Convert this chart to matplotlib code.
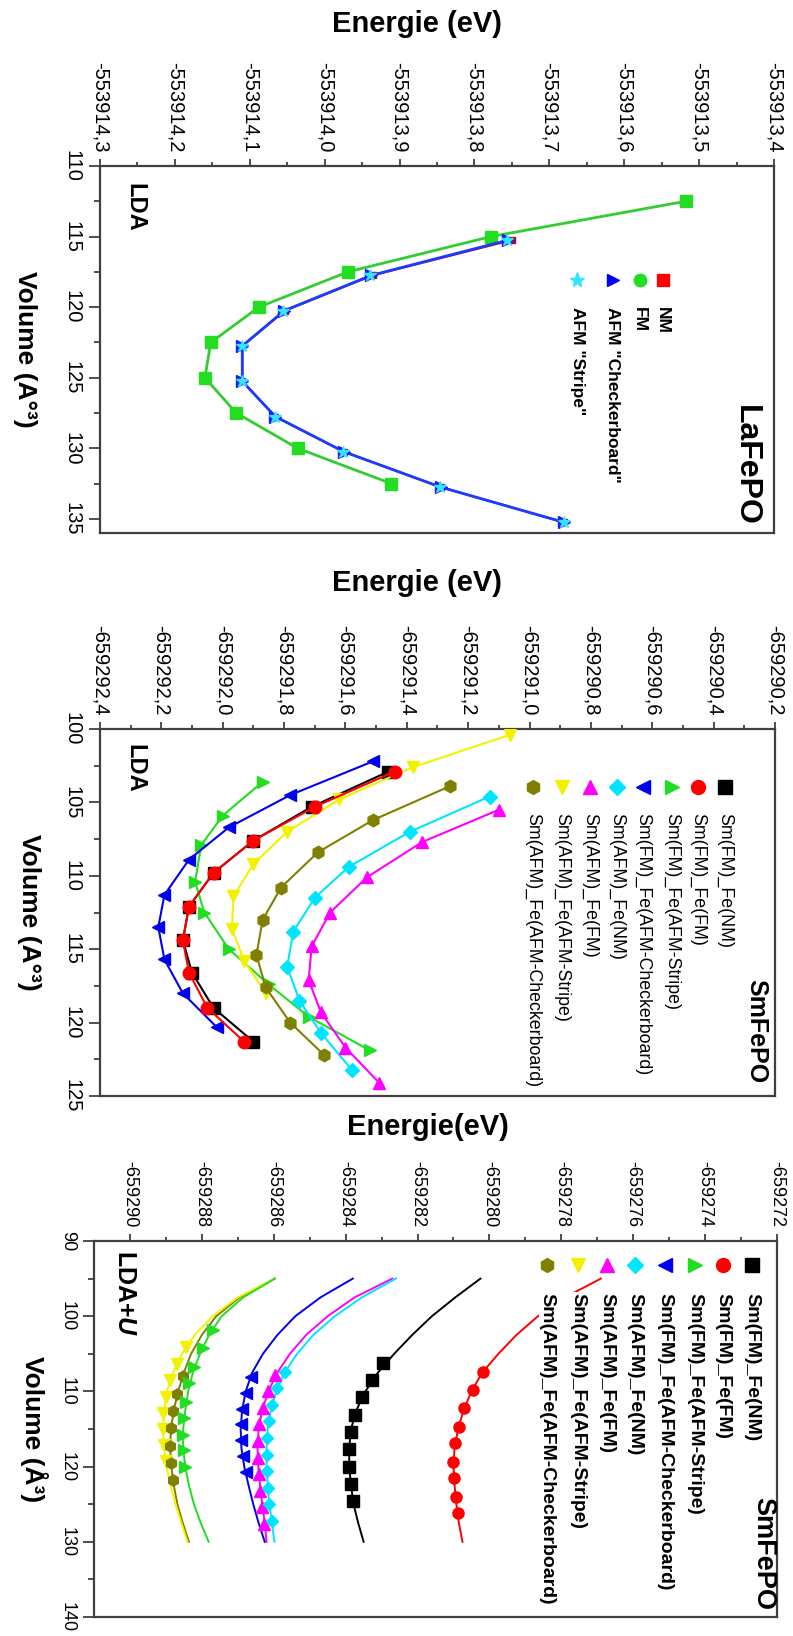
import matplotlib
matplotlib.use("Agg")
import matplotlib.pyplot as plt
from matplotlib.patches import Rectangle
import numpy as np

plt.rcParams['font.family'] = ['Liberation Sans', 'DejaVu Sans']
plt.rcParams['axes.unicode_minus'] = False
plt.rcParams['mathtext.fontset'] = 'custom'
plt.rcParams['mathtext.it'] = 'Liberation Sans:italic:bold'
plt.rcParams['mathtext.rm'] = 'Liberation Sans:bold'

# ---- LaFePO (LDA) ----
la_vol_fm = [112.5, 115.0, 117.5, 120.0, 122.5, 125.0, 127.5, 130.0, 132.5]
la_e_fm = [-553913.518, -553913.778, -553913.969, -553914.088, -553914.152,
           -553914.160, -553914.118, -553914.036, -553913.911]
la_vol_afm = [115.25, 117.75, 120.25, 122.75, 125.25, 127.75, 130.25, 132.75, 135.25]
la_e_nm = [-553913.750, -553913.936, -553914.053, -553914.110, -553914.110,
           -553914.066, -553913.974, -553913.845, -553913.680]
la_e_check = [-553913.755, -553913.938, -553914.054, -553914.110, -553914.110,
              -553914.066, -553913.974, -553913.845, -553913.680]
la_e_stripe = [-553913.757, -553913.940, -553914.055, -553914.111, -553914.111,
               -553914.066, -553913.975, -553913.846, -553913.680]
la_labels = ['NM', 'FM', 'AFM "Checkerboard"', 'AFM "Stripe"']

# ---- SmFePO (LDA) ----
sm_labels = ['Sm(FM)_Fe(NM)', 'Sm(FM)_Fe(FM)', 'Sm(FM)_Fe(AFM-Stripe)',
             'Sm(FM)_Fe(AFM-Checkerboard)', 'Sm(AFM)_Fe(NM)', 'Sm(AFM)_Fe(FM)',
             'Sm(AFM)_Fe(AFM-Stripe)', 'Sm(AFM)_Fe(AFM-Checkerboard)']
sm_vol = [
    [102.9, 105.3, 107.6, 109.8, 112.1, 114.4, 116.6, 119.0, 121.3],
    [102.9, 105.3, 107.6, 109.8, 112.1, 114.4, 116.6, 119.0, 121.3],
    [103.6, 105.9, 107.9, 110.4, 112.5, 115.0, 117.4, 119.6, 121.9],
    [102.2, 104.5, 106.7, 108.9, 111.3, 113.5, 115.7, 118.0, 120.3],
    [104.6, 107.0, 109.4, 111.5, 113.8, 116.2, 118.5, 120.7, 123.2],
    [105.5, 107.7, 110.1, 112.5, 114.8, 117.1, 119.3, 121.7, 124.1],
    [100.4, 102.6, 104.8, 107.0, 109.2, 111.4, 113.6, 115.8, 118.0],
    [103.9, 106.2, 108.4, 110.8, 113.0, 115.4, 117.6, 120.0, 122.2],
]
sm_e = [
    [-659291.46, -659291.71, -659291.90, -659292.03, -659292.11, -659292.13, -659292.10, -659292.03, -659291.90],
    [-659291.44, -659291.70, -659291.90, -659292.03, -659292.11, -659292.13, -659292.11, -659292.05, -659291.93],
    [-659291.87, -659292.00, -659292.07, -659292.09, -659292.06, -659291.98, -659291.85, -659291.72, -659291.52],
    [-659291.51, -659291.78, -659291.98, -659292.11, -659292.19, -659292.21, -659292.19, -659292.13, -659292.02],
    [-659291.13, -659291.39, -659291.59, -659291.70, -659291.77, -659291.79, -659291.75, -659291.68, -659291.58],
    [-659291.10, -659291.35, -659291.53, -659291.65, -659291.71, -659291.72, -659291.68, -659291.60, -659291.49],
    [-659291.065, -659291.38, -659291.62, -659291.79, -659291.90, -659291.965, -659291.97, -659291.93, -659291.86],
    [-659291.26, -659291.51, -659291.69, -659291.81, -659291.87, -659291.89, -659291.86, -659291.78, -659291.67],
]

# ---- SmFePO (LDA+U) : fitted curves and computed points ----
u_fit_vol = [95, 97.5, 100, 102.5, 105, 107.5, 110, 112.5, 115, 117.5, 120, 122.5, 125, 127.5, 130]
u_fit_e = [
    [-659280.25, -659280.95, -659281.6, -659282.15, -659282.65, -659283.1, -659283.45, -659283.7, -659283.85, -659283.9, -659283.9, -659283.85, -659283.78, -659283.65, -659283.5],
    [-659276.9, -659277.9, -659278.65, -659279.25, -659279.75, -659280.2, -659280.5, -659280.72, -659280.87, -659280.97, -659281.0, -659280.97, -659280.92, -659280.85, -659280.75],
    [-659285.97, -659286.85, -659287.45, -659287.8, -659288.05, -659288.25, -659288.38, -659288.46, -659288.52, -659288.52, -659288.46, -659288.36, -659288.22, -659288.03, -659287.81],
    [-659283.8, -659284.7, -659285.4, -659285.9, -659286.3, -659286.6, -659286.78, -659286.88, -659286.92, -659286.9, -659286.82, -659286.7, -659286.57, -659286.42, -659286.25],
    [-659282.6, -659283.55, -659284.3, -659284.9, -659285.35, -659285.7, -659285.93, -659286.08, -659286.17, -659286.2, -659286.2, -659286.17, -659286.12, -659286.05, -659285.98],
    [-659282.7, -659283.75, -659284.5, -659285.1, -659285.55, -659285.9, -659286.15, -659286.32, -659286.42, -659286.45, -659286.43, -659286.38, -659286.32, -659286.25, -659286.2],
    [-659285.97, -659287.0, -659287.7, -659288.2, -659288.55, -659288.8, -659288.97, -659289.05, -659289.08, -659289.05, -659288.98, -659288.87, -659288.73, -659288.57, -659288.4],
    [-659285.97, -659286.95, -659287.6, -659288.0, -659288.3, -659288.5, -659288.66, -659288.78, -659288.86, -659288.88, -659288.85, -659288.78, -659288.68, -659288.53, -659288.36],
]
u_pt_vol = [
    [106.2, 108.5, 110.8, 113.1, 115.4, 117.7, 120.0, 122.3, 124.6],
    [107.4, 109.8, 112.2, 114.7, 116.9, 119.4, 121.5, 124.0, 126.2],
    [101.8, 104.2, 106.7, 108.9, 111.4, 113.5, 115.8, 117.8, 120.1],
    [108.1, 110.2, 112.3, 114.4, 116.5, 118.6, 120.7],
    [107.4, 109.6, 111.8, 114.0, 116.2, 118.4, 120.6, 122.8, 125.0, 127.2],
    [107.8, 110.0, 112.2, 114.4, 116.6, 118.8, 121.0, 123.2, 125.4, 127.6],
    [104.1, 106.3, 108.5, 110.7, 112.9, 115.0, 117.1, 119.2],
    [108.0, 110.3, 112.6, 114.9, 117.2, 119.5, 121.8],
]
u_pt_e = [
    [-659282.95, -659283.28, -659283.55, -659283.75, -659283.86, -659283.9, -659283.9, -659283.86, -659283.8],
    [-659280.19, -659280.47, -659280.7, -659280.86, -659280.96, -659281.0, -659280.98, -659280.93, -659280.88],
    [-659287.69, -659287.97, -659288.22, -659288.35, -659288.44, -659288.5, -659288.53, -659288.5, -659288.46],
    [-659286.62, -659286.78, -659286.88, -659286.92, -659286.9, -659286.85, -659286.78],
    [-659285.68, -659285.9, -659286.05, -659286.14, -659286.19, -659286.2, -659286.19, -659286.16, -659286.12, -659286.06],
    [-659285.96, -659286.15, -659286.3, -659286.4, -659286.45, -659286.45, -659286.42, -659286.37, -659286.32, -659286.26],
    [-659288.44, -659288.7, -659288.88, -659289.0, -659289.07, -659289.08, -659289.05, -659289.0],
    [-659288.52, -659288.68, -659288.79, -659288.86, -659288.88, -659288.86, -659288.8],
]

sm_colors = ['black', '#ff0000', '#22dd22', '#0000ee', '#00e5ff', '#ff00ff', '#f2f200', '#808000']
sm_markers = ['s', 'o', '>', '<', 'D', '^', 'v', 'h']

SPINE = '#404040'


def style_axes(ax, xticks, xfmt, yticks, xlim, ylim, tick_fs, xlabel, ylabel, xlab_xy, ylab_x):
    ax.set_xlim(*xlim)
    ax.set_ylim(*ylim)
    ax.xaxis.set_ticks_position('top')
    ax.xaxis.set_label_position('top')
    ax.set_xticks(xticks, [xfmt(v) for v in xticks], rotation=-90, fontsize=tick_fs)
    xmin = np.array(xticks[:-1]) + (xticks[1] - xticks[0]) / 2
    ax.set_xticks(xmin, minor=True)
    ax.set_yticks(yticks, [f"{v:g}" for v in yticks], rotation=-90, fontsize=tick_fs, va='center')
    ymin = np.array(yticks[:-1]) + (yticks[1] - yticks[0]) / 2
    ax.set_yticks(ymin, minor=True)
    ax.tick_params(axis='x', which='major', length=5, width=1.3, pad=5, color=SPINE)
    ax.tick_params(axis='x', which='minor', length=3, width=1.3, color=SPINE)
    ax.tick_params(axis='y', which='major', length=8, width=1.3, pad=5, color=SPINE)
    ax.tick_params(axis='y', which='minor', length=4, width=1.3, color=SPINE)
    ax.tick_params(right=False, bottom=False, which='both')
    for s in ax.spines.values():
        s.set_linewidth(1.6)
        s.set_color(SPINE)
    ax.set_xlabel(xlabel, fontsize=21, fontweight='bold')
    ax.xaxis.set_label_coords(*xlab_xy)
    ax.xaxis.label.set_va('center')
    ax.set_ylabel(ylabel, fontsize=19, fontweight='bold', rotation=-90)
    ax.yaxis.set_label_coords(ylab_x, 0.5)
    ax.yaxis.label.set_va('center')
    ax.yaxis.label.set_ha('center')


fig = plt.figure(figsize=(7.93, 16.36), dpi=100)

# ================= panel 1 =================
ax1 = fig.add_axes([100 / 793, 1 - 533 / 1636, 674 / 793, 367 / 1636])
ax1.plot(la_e_nm, la_vol_afm, color='#cc0000', marker='s', ms=5, lw=1.5, zorder=2)
ax1.plot(la_e_fm, la_vol_fm, color='#33cc33', lw=2, marker='s', ms=9, mfc='#22dd22', mec='#22dd22', zorder=3)
ax1.plot(la_e_check, la_vol_afm, color='#1a3cff', lw=2, marker='>', ms=8, mfc='#1a1aff', mec='#1a1aff', zorder=3)
ax1.plot(la_e_stripe, la_vol_afm, ls='none', marker='*', ms=9, mfc='#33e6ff', mec='#33e6ff', zorder=4)
style_axes(ax1, list(np.round(np.arange(-553914.3, -553913.35, 0.1), 1)),
           lambda v: f"{v:.1f}".replace('.', ','),
           [110, 115, 120, 125, 130, 135], (-553914.3, -553913.4), (136, 110), 14.5,
           'Energie (eV)', 'Volume (A°³)', (0.47, 1.387), -0.111)
ax1.text(0.052, 0.955, 'LDA', transform=ax1.transAxes, rotation=-90, ha='center', va='top',
         fontsize=17, fontweight='bold')
ax1.text(0.958, 0.02, 'LaFePO', transform=ax1.transAxes, rotation=-90, ha='center', va='bottom',
         fontsize=23, fontweight='bold')
leg1 = [(0.835, 's', '#ff0000'), (0.801, 'o', '#22dd22'), (0.761, '>', '#0000ee'), (0.708, '*', '#33e6ff')]
for (xf, mk, col), lab in zip(leg1, la_labels):
    ax1.plot([xf], [0.689], marker=mk, color=col, ms=11 if mk == '*' else 9, ls='none',
             transform=ax1.transAxes, clip_on=False, zorder=5)
    ax1.text(xf, 0.616, lab, transform=ax1.transAxes, rotation=-90, ha='center', va='top',
             fontsize=12.5, fontweight='bold')

# ================= panel 2 =================
ax2 = fig.add_axes([100 / 793, 1 - 1096 / 1636, 675 / 793, 367 / 1636])
draw_order = [0, 2, 3, 4, 5, 6, 7, 1]
for i in draw_order:
    ax2.plot(sm_e[i], sm_vol[i], color=sm_colors[i], marker=sm_markers[i], ms=9 if sm_markers[i] != 'D' else 7.5,
             lw=1.5, mec=sm_colors[i], zorder=3)
style_axes(ax2, list(np.round(np.arange(-659292.4, -659290.15, 0.2), 1)),
           lambda v: f"{v:.1f}".replace('.', ','),
           [100, 105, 110, 115, 120, 125], (-659292.4, -659290.2), (125, 100), 14.5,
           'Energie (eV)', 'Volume (A°³)', (0.47, 1.398), -0.105)
ax2.text(0.052, 0.96, 'LDA', transform=ax2.transAxes, rotation=-90, ha='center', va='top',
         fontsize=17, fontweight='bold')
ax2.text(0.973, 0.035, 'SmFePO', transform=ax2.transAxes, rotation=-90, ha='center', va='bottom',
         fontsize=18, fontweight='bold')
leg2_x = [0.926, 0.886, 0.847, 0.804, 0.766, 0.726, 0.684, 0.641]
for xf, mk, col, lab in zip(leg2_x, sm_markers, sm_colors, sm_labels):
    ax2.plot([xf], [0.842], marker=mk, color=col, ms=10 if mk != 'D' else 8, ls='none',
             transform=ax2.transAxes, clip_on=False, zorder=5)
    ax2.text(xf, 0.771, lab, transform=ax2.transAxes, rotation=-90, ha='center', va='top',
             fontsize=12.8)

# ================= panel 3 =================
ax3 = fig.add_axes([94 / 793, 1 - 1617 / 1636, 683 / 793, 376 / 1636])
for i in [7, 6, 2, 5, 4, 3, 0, 1]:
    ax3.plot(u_fit_e[i], u_fit_vol, color=sm_colors[i], lw=1.4, zorder=2)
for i in [6, 7, 2, 5, 4, 3, 0, 1]:
    ax3.plot(u_pt_e[i], u_pt_vol[i], ls='none', marker=sm_markers[i], ms=8 if sm_markers[i] != 'D' else 6.5,
             color=sm_colors[i], zorder=3)
style_axes(ax3, [-659290, -659288, -659286, -659284, -659282, -659280, -659278, -659276, -659274, -659272],
           lambda v: f"{v:.0f}",
           [90, 100, 110, 120, 130, 140], (-659291, -659272), (140, 90), 13,
           'Energie(eV)', 'Volume (Å³)', (0.489, 1.303), -0.088)
ax3.add_patch(Rectangle((0.652, 0.01), 0.33, 0.855, transform=ax3.transAxes,
                        facecolor='white', edgecolor='none', zorder=2.5))
ax3.text(0.045, 0.975, 'LDA+$U$', transform=ax3.transAxes, rotation=-90, ha='center', va='top',
         fontsize=18, fontweight='bold')
ax3.text(0.98, 0.019, 'SmFePO', transform=ax3.transAxes, rotation=-90, ha='center', va='bottom',
         fontsize=19.5, fontweight='bold')
leg3_x = [0.963, 0.921, 0.880, 0.836, 0.792, 0.751, 0.709, 0.663]
for xf, mk, col, lab in zip(leg3_x, sm_markers, sm_colors, sm_labels):
    ax3.plot([xf], [0.936], marker=mk, color=col, ms=10 if mk != 'D' else 8, ls='none',
             transform=ax3.transAxes, clip_on=False, zorder=5)
    ax3.text(xf, 0.862, lab, transform=ax3.transAxes, rotation=-90, ha='center', va='top',
             fontsize=14, fontweight='bold', zorder=4)

fig.savefig('out.png', dpi=100)
